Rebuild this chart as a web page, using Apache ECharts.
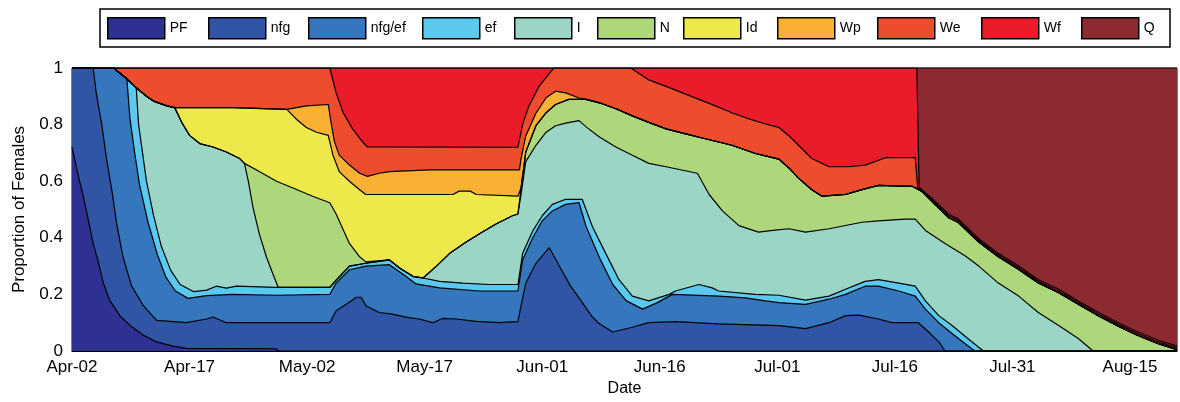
<!DOCTYPE html>
<html>
<head>
<meta charset="utf-8">
<title>Proportion of Females</title>
<script src="https://cdn.jsdelivr.net/npm/echarts@6/dist/echarts.min.js"></script>
<style>
    html, body { margin: 0; padding: 0; background: #fff; }
    #chart_area { width: 1180px; height: 402px; }
</style>
</head>
<body>
<div id="chart_area"></div>
<script>
// stages, in legend order (bottom band first)
var stages = ['PF', 'nfg', 'nfg/ef', 'ef', 'I', 'N', 'Id', 'Wp', 'We', 'Wf', 'Q'];
var stageColors = ['#2e3192', '#3155a5', '#3576bc', '#5bc8ee', '#9bd5c5', '#aed67b',
    '#ede94b', '#f8b133', '#ee4d2d', '#ea1c2a', '#8b2a30'];

// x tick labels, one every 15 days starting at Apr-02 (day 0)
var dateLabels = ['Apr-02', 'Apr-17', 'May-02', 'May-17', 'Jun-01', 'Jun-16',
    'Jul-01', 'Jul-16', 'Jul-31', 'Aug-15'];

// upper edge of each band (cumulative proportion), [day since Apr-02, value]
var edgePF = [[0, 0.72], [0.8, 0.62], [1.5, 0.54], [2.1, 0.46], [2.7, 0.38], [3.4, 0.31], [4, 0.24],
    [4.8, 0.18], [6.1, 0.125], [7.4, 0.09], [9.1, 0.056], [10.8, 0.032], [12.9, 0.017], [14.6, 0.009],
    [26, 0.008], [26.4, 0], [141, 0]];

var edgeNfg = [[0, 1], [2.7, 1], [3.1, 0.91], [3.8, 0.80], [4.4, 0.68], [5.1, 0.565], [5.7, 0.45],
    [6.5, 0.333], [7.6, 0.23], [9.1, 0.16], [10.8, 0.108], [14.6, 0.10], [17.2, 0.113], [18, 0.12],
    [19.7, 0.10], [32.9, 0.10], [33.7, 0.142], [35, 0.165], [36.3, 0.19], [36.9, 0.19], [37.5, 0.16],
    [39.2, 0.136], [40.9, 0.13], [42.6, 0.12], [44.3, 0.113], [46, 0.10], [47.3, 0.115], [49, 0.113],
    [51.6, 0.105], [54.5, 0.10], [56.9, 0.104], [57.3, 0.16], [57.9, 0.24], [59.2, 0.31], [60.9, 0.365],
    [62.4, 0.29], [63.6, 0.23], [64.9, 0.18], [66.4, 0.12], [67.3, 0.096], [69, 0.067], [71.5, 0.084],
    [73.6, 0.10], [77, 0.104], [82.5, 0.096], [90.2, 0.09], [93.6, 0.079], [96.6, 0.10], [98.7, 0.125],
    [100.4, 0.127], [102.9, 0.113], [104.6, 0.10], [108, 0.10], [109.3, 0.067], [110.6, 0.032],
    [111.4, 0], [141, 0]];

var edgeNfgEf = [[0, 1], [5.3, 1], [7, 0.962], [7.4, 0.82], [8, 0.70], [8.6, 0.59], [9.7, 0.455],
    [10.9, 0.34], [12, 0.26], [13.2, 0.212], [14.8, 0.186], [17.2, 0.196], [20.5, 0.20], [26.1, 0.197],
    [32.9, 0.20], [33.7, 0.24], [35.4, 0.287], [37.5, 0.30], [40.5, 0.305], [42.6, 0.264], [43.9, 0.237],
    [46.9, 0.223], [52, 0.212], [56.9, 0.212], [57.5, 0.322], [58.8, 0.40], [60, 0.46], [61.3, 0.495],
    [63, 0.518], [64.7, 0.524], [65.6, 0.44], [67.3, 0.33], [69, 0.235], [70.7, 0.178], [72.8, 0.148],
    [74.7, 0.171], [76.6, 0.20], [82.5, 0.194], [85.9, 0.188], [88.5, 0.177], [90.2, 0.171],
    [93.6, 0.165], [96.6, 0.183], [98.7, 0.20], [101.2, 0.229], [102.9, 0.229], [105.5, 0.212],
    [107.6, 0.194], [108.9, 0.148], [110.6, 0.10], [112.3, 0.062], [113.1, 0.044], [115.2, 0], [141, 0]];

var edgeEf = [[0, 1], [5.3, 1], [7, 0.962], [8.2, 0.93], [8.5, 0.80], [9, 0.70], [9.5, 0.60],
    [10.4, 0.48], [11.4, 0.37], [12.6, 0.285], [13.8, 0.235], [15.5, 0.21], [17.2, 0.215], [18.4, 0.229],
    [19.7, 0.222], [21, 0.229], [26, 0.225], [32.9, 0.225], [33.7, 0.25], [35.4, 0.30], [37.5, 0.31],
    [40.5, 0.322], [41.8, 0.293], [43.5, 0.264], [44.8, 0.258], [46.9, 0.246], [49.9, 0.24],
    [53.2, 0.235], [56.9, 0.235], [57.5, 0.345], [58.8, 0.425], [60, 0.478], [61.3, 0.518], [63, 0.536],
    [65.1, 0.536], [66.4, 0.44], [68.1, 0.345], [69.8, 0.252], [71.5, 0.194], [73.6, 0.177], [76.2, 0.20],
    [77, 0.212], [80, 0.235], [81.7, 0.223], [82.5, 0.212], [87.2, 0.20], [90.2, 0.197], [93.6, 0.18],
    [96.6, 0.194], [98.7, 0.218], [101.2, 0.246], [102.9, 0.252], [105.5, 0.24], [107.6, 0.229],
    [108.9, 0.177], [110.6, 0.125], [112.3, 0.09], [114.5, 0.04], [116.3, 0], [141, 0]];

var edgeI = [[0, 1], [5.3, 1], [7, 0.962], [8.2, 0.93], [9.5, 0.90], [10.4, 0.883], [12.1, 0.866],
    [13.1, 0.86], [14, 0.808], [15, 0.762], [16.3, 0.733], [18, 0.721], [19.7, 0.703], [21.4, 0.68],
    [22, 0.663], [22.5, 0.60], [23.1, 0.507], [23.9, 0.414], [24.8, 0.333], [25.6, 0.275], [26.3, 0.226],
    [32.9, 0.225], [33.7, 0.25], [35.4, 0.30], [37.5, 0.31], [40.5, 0.322], [41.8, 0.293], [43.5, 0.264],
    [44.8, 0.258], [46.5, 0.30], [48.2, 0.345], [50.3, 0.385], [52, 0.414], [54.1, 0.449], [56.2, 0.478],
    [56.9, 0.484], [57.3, 0.553], [57.9, 0.669], [59.2, 0.727], [60.5, 0.773], [61.7, 0.796], [63, 0.805],
    [64.7, 0.814], [65.6, 0.792], [67.3, 0.756], [69.4, 0.721], [71.5, 0.692], [73.6, 0.663],
    [75.8, 0.651], [79.8, 0.628], [81.3, 0.553], [83, 0.495], [85.1, 0.443], [87.6, 0.42], [89.4, 0.426],
    [91.5, 0.432], [93.6, 0.42], [96.6, 0.432], [100.8, 0.455], [102.9, 0.46], [106.3, 0.466],
    [107.6, 0.466], [108.9, 0.426], [111.4, 0.38], [114, 0.336], [115.7, 0.30], [118.2, 0.24],
    [120.8, 0.194], [123.3, 0.136], [125.9, 0.09], [128.4, 0.044], [130.3, 0], [141, 0]];

var edgeN = [[0, 1], [5.3, 1], [7, 0.962], [8.2, 0.93], [9.5, 0.90], [10.4, 0.883], [12.1, 0.866],
    [13.1, 0.86], [14, 0.808], [15, 0.762], [16.3, 0.733], [18, 0.721], [19.7, 0.703], [21.4, 0.68],
    [22, 0.663], [23.9, 0.634], [26.1, 0.60], [28.2, 0.576], [30.7, 0.547], [32.9, 0.524], [33.7, 0.484],
    [35.4, 0.38], [36.7, 0.333], [37.5, 0.315], [40.5, 0.322], [41.8, 0.293], [43.5, 0.264],
    [44.8, 0.258], [46.5, 0.30], [48.2, 0.345], [50.3, 0.385], [52, 0.414], [54.1, 0.449], [56.2, 0.478],
    [56.9, 0.484], [57.3, 0.576], [57.9, 0.703], [59.2, 0.796], [60.5, 0.842], [61.7, 0.871],
    [63.4, 0.889], [65.6, 0.889], [67.3, 0.877], [69.4, 0.856], [71.5, 0.831], [73.6, 0.808],
    [75.8, 0.785], [78.3, 0.767], [80.8, 0.75], [84.2, 0.727], [87.2, 0.698], [90.2, 0.678],
    [91.5, 0.646], [92.7, 0.611], [94.4, 0.57], [95.7, 0.547], [98.7, 0.553], [100.8, 0.57],
    [102.9, 0.585], [107.2, 0.582], [108.4, 0.565], [110.1, 0.518], [111.8, 0.472], [113.1, 0.454],
    [115.7, 0.385], [118.2, 0.333], [120.8, 0.288], [123.3, 0.24], [125.9, 0.206], [128.4, 0.165],
    [131, 0.124], [133.5, 0.088], [136, 0.055], [138.6, 0.026], [141, 0.005]];

// Id and Wp run on top of N once they have gone to zero
var edgeIdHead = [[0, 1], [5.3, 1], [7, 0.962], [8.2, 0.93], [9.5, 0.90], [10.4, 0.883], [12.1, 0.866],
    [13.1, 0.86], [20.5, 0.86], [27.4, 0.854], [28.6, 0.82], [29.9, 0.79], [31.2, 0.773], [32.7, 0.762],
    [33.3, 0.692], [34.1, 0.634], [35.4, 0.60], [36.7, 0.57], [37.5, 0.553], [48.6, 0.553], [49.4, 0.565],
    [50.8, 0.565], [51.6, 0.553], [56.9, 0.547], [57.3, 0.576]];

var edgeWpHead = [[0, 1], [5.3, 1], [7, 0.962], [8.2, 0.93], [9.5, 0.90], [10.4, 0.883], [12.1, 0.866],
    [13.1, 0.86], [20.5, 0.86], [27.4, 0.854], [29.9, 0.866], [32.7, 0.871], [33.1, 0.80], [33.5, 0.738],
    [34.1, 0.692], [35.4, 0.657], [36.7, 0.628], [37.7, 0.617], [39.2, 0.628], [40.5, 0.634], [45.6, 0.64],
    [57.1, 0.64], [57.3, 0.68], [57.9, 0.76], [59.2, 0.84], [60.5, 0.895], [61.7, 0.918], [63, 0.912],
    [64.7, 0.894], [65.6, 0.889]];

var edgeWe = [[0, 1], [32.9, 1], [33.7, 0.912], [34.6, 0.842], [35.8, 0.785], [37.1, 0.738],
    [37.7, 0.721], [56.9, 0.72], [57.5, 0.80], [58.3, 0.866], [59.6, 0.935], [60.9, 0.98], [61.5, 1],
    [71.3, 1], [73.6, 0.958], [75.8, 0.935], [77.9, 0.912], [80, 0.889], [82.1, 0.866], [84.2, 0.842],
    [86.4, 0.82], [88.5, 0.802], [90.2, 0.79], [91.5, 0.76], [92.7, 0.727], [94.4, 0.68], [96.6, 0.651],
    [99.1, 0.651], [101.2, 0.657], [103.8, 0.683], [107.6, 0.683], [107.9, 0.578], [110.1, 0.524],
    [111.8, 0.478], [113.1, 0.46], [115.7, 0.391], [118.2, 0.339], [120.8, 0.294], [123.3, 0.246],
    [125.9, 0.212], [128.4, 0.171], [131, 0.13], [133.5, 0.094], [136, 0.061], [138.6, 0.032],
    [141, 0.011]];

var edgeWf = [[0, 1], [107.8, 1], [108.1, 0.578], [110.1, 0.53], [111.8, 0.484], [113.1, 0.466],
    [115.7, 0.397], [118.2, 0.345], [120.8, 0.30], [123.3, 0.252], [125.9, 0.218], [128.4, 0.177],
    [131, 0.136], [133.5, 0.10], [136, 0.067], [138.6, 0.038], [141, 0.017]];

var edgeQ = [[0, 1], [141, 1]];

// 图例位置 (px)
var legendLeft = [107, 208, 308, 422, 514, 597, 683, 777, 877, 981, 1081];

function follow(head, base) {
    // head points, then the base edge after head's last day
    var last = head[head.length - 1][0];
    return head.concat(base.filter(function (p) {
        return p[0] > last;
    }));
}

var edges = [edgePF, edgeNfg, edgeNfgEf, edgeEf, edgeI, edgeN,
    follow(edgeIdHead, edgeN), follow(edgeWpHead, edgeN), edgeWe, edgeWf, edgeQ];

var fontFamily = '"Liberation Sans", Arial, sans-serif';
var myChart = echarts.init(document.getElementById('chart_area'));

// each band is filled from its upper edge down to 0; the top band is drawn first
var series = [];
for (var k = stages.length - 1; k >= 0; k--) {
    series.push({
        name: stages[k],
        type: 'line',
        data: edges[k],
        color: stageColors[k],
        showSymbol: false,
        symbol: 'none',
        lineStyle: {color: '#000', width: 1.2},
        areaStyle: {color: stageColors[k], opacity: 1},
        emphasis: {disabled: true},
        silent: true
    });
}

var legends = stages.map(function (name, i) {
    return {
        data: [name],
        left: legendLeft[i],
        top: 17,
        padding: 0,
        itemWidth: 57,
        itemHeight: 21,
        icon: 'rect',
        selectedMode: false,
        itemStyle: {borderColor: '#000', borderWidth: 1.5},
        textStyle: {fontSize: 14, color: '#000', fontFamily: fontFamily}
    };
});

var option = {
    animation: false,
    legend: legends,
    graphic: [{
        type: 'rect',
        shape: {x: 100, y: 9, width: 1070, height: 38},
        style: {fill: 'none', stroke: '#000', lineWidth: 1.5},
        silent: true
    }],
    grid: {
        left: 72, right: 1, top: 68, bottom: 46,
        show: true, borderColor: '#000', borderWidth: 1
    },
    xAxis: {
        type: 'value',
        min: 0,
        max: 141,
        interval: 15,
        name: 'Date',
        nameLocation: 'middle',
        nameGap: 30,
        nameTextStyle: {fontSize: 16, color: '#000', fontFamily: fontFamily},
        axisLine: {show: true, lineStyle: {color: '#000'}},
        axisTick: {show: false},
        splitLine: {show: false},
        axisLabel: {
            margin: 8,
            fontSize: 17,
            color: '#000',
            fontFamily: fontFamily,
            formatter: function (v) {
                var i = Math.round(v / 15);
                return (Math.abs(v - i * 15) < 1e-6 && dateLabels[i]) ? dateLabels[i] : '';
            }
        }
    },
    yAxis: {
        type: 'value',
        min: 0,
        max: 1,
        interval: 0.2,
        name: 'Proportion of Females',
        nameLocation: 'middle',
        nameGap: 44,
        nameTextStyle: {fontSize: 17, color: '#000', fontFamily: fontFamily},
        axisLine: {show: true, lineStyle: {color: '#000'}},
        axisTick: {show: false},
        splitLine: {show: false},
        axisLabel: {margin: 9, fontSize: 17, color: '#000', fontFamily: fontFamily}
    },
    series: series
};

myChart.setOption(option);
window.addEventListener('resize', function () {
    myChart.resize();
});
</script>
</body>
</html>
